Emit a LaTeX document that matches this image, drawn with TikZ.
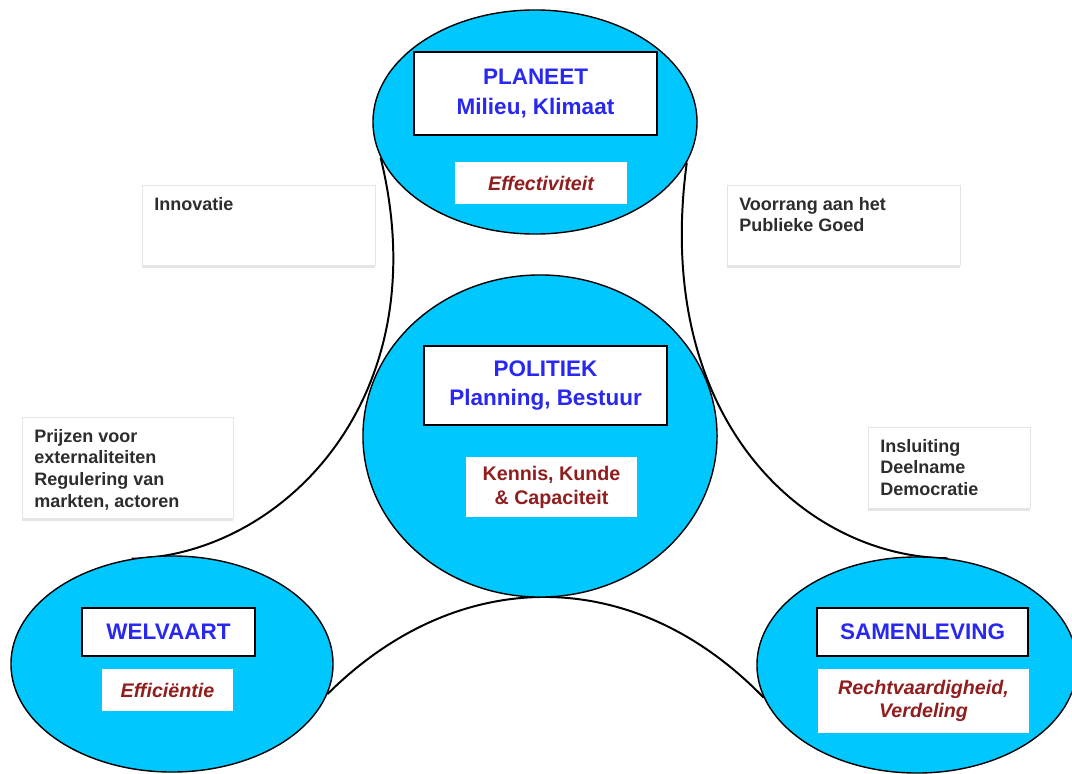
\documentclass[tikz,border=0pt]{standalone}
\usepackage{fontspec}
\setmainfont{Liberation Sans}
\usepackage{xcolor}
\usepackage{tikz}
\usetikzlibrary{shapes.geometric,shadows,backgrounds}

\definecolor{bolblauw}{RGB}{0,200,255}
\definecolor{titelblauw}{RGB}{40,40,240}
\definecolor{waarderood}{RGB}{145,30,30}
\definecolor{notitiegrijs}{RGB}{45,45,45}

\tikzset{
    bol/.style={ellipse, draw=black, line width=1pt, fill=bolblauw, inner sep=0pt},
    titel/.style={draw=black, line width=1.3pt, fill=white, inner sep=0pt, align=center,
        text=titelblauw, font=\fontsize{16}{21}\selectfont\bfseries},
    waarde/.style={fill=white, inner sep=0pt, align=center,
        text=waarderood, font=\fontsize{14}{17}\selectfont\bfseries},
    notitie/.style={draw=black!10, fill=white, anchor=north west, inner sep=0.3cm,
        text=notitiegrijs, font=\fontsize{12.8}{15.4}\selectfont\bfseries,
        drop shadow={shadow xshift=0pt, shadow yshift=-0.07cm, opacity=0.2}},
    boog/.style={line width=1.4pt}
}

\begin{document}
\begin{tikzpicture}[x=0.025cm, y=-0.025cm]
        \useasboundingbox (0,0) rectangle (1072,774);

        % de vier bollen
        \node[bol, minimum width=8.1cm, minimum height=5.6cm] (planeet) at (535,122) {};
        \node[bol, minimum width=8.85cm, minimum height=8.05cm] (politiek) at (540,436) {};
        \node[bol, minimum width=8.05cm, minimum height=5.4cm] (welvaart) at (172,664) {};
        \node[bol, minimum width=8cm, minimum height=5.4cm] (samenleving) at (917,665) {};

        % titels
        \node[titel, minimum width=6.075cm, minimum height=2.075cm] (planeetTitel) at (535.5,93.5) {PLANEET\\Milieu, Klimaat};
        \node[titel, minimum width=6.075cm, minimum height=1.975cm] (politiekTitel) at (545.5,385.5) {POLITIEK\\Planning, Bestuur};
        \node[titel, minimum width=4.325cm, minimum height=1.2cm] (welvaartTitel) at (168.5,632) {WELVAART};
        \node[titel, minimum width=5.275cm, minimum height=1.2cm] (samenlevingTitel) at (922.5,632) {SAMENLEVING};

        % waarden
        \node[waarde, font=\fontsize{14}{17}\selectfont\bfseries\itshape, minimum width=4.3cm, minimum height=1.05cm] (effectiviteit) at (541,183) {Effectiviteit};
        \node[waarde, minimum width=4.275cm, minimum height=1.5cm] (kennis) at (551.5,487) {Kennis, Kunde\\\& Capaciteit};
        \node[waarde, font=\fontsize{14}{17}\selectfont\bfseries\itshape, minimum width=3.275cm, minimum height=1.05cm] (efficientie) at (167.5,690) {Efficiëntie};
        \node[waarde, font=\fontsize{14}{16.5}\selectfont\bfseries\itshape, minimum width=5.275cm, minimum height=1.6cm] (rechtvaardigheid) at (923.5,701) {Rechtvaardigheid,\\Verdeling};

        % notities
        \node[notitie] (innovatie) at (142,185) {
            \begin{minipage}[t][1.4cm][t]{5.225cm}
                Innovatie
            \end{minipage}
        };
        \node[notitie] (voorrang) at (727,185) {
            \begin{minipage}[t][1.4cm][t]{5.225cm}
                Voorrang aan het\\
                Publieke Goed
            \end{minipage}
        };
        \node[notitie] (prijzen) at (22,417) {
            \begin{minipage}[t][1.925cm][t]{4.675cm}
                Prijzen voor\\
                externaliteiten\\
                Regulering van\\
                markten, actoren
            \end{minipage}
        };
        \node[notitie] (insluiting) at (868,427) {
            \begin{minipage}[t][1.425cm][t]{3.45cm}
                Insluiting\\
                Deelname\\
                Democratie
            \end{minipage}
        };

        % bogen achter de bollen
        \begin{scope}[on background layer]
            \fill[white] (0,0) rectangle (1072,774);
            \draw[boog] (planeet.193) .. controls (440,400) and (280,556) .. (welvaart.111);
            \draw[boog] (planeet.345) .. controls (652,420) and (805,557) .. (samenleving.74);
            \draw[boog] (welvaart.349) .. controls (458,564) and (634,564) .. (samenleving.192);
        \end{scope}
    \end{tikzpicture}
\end{document}
